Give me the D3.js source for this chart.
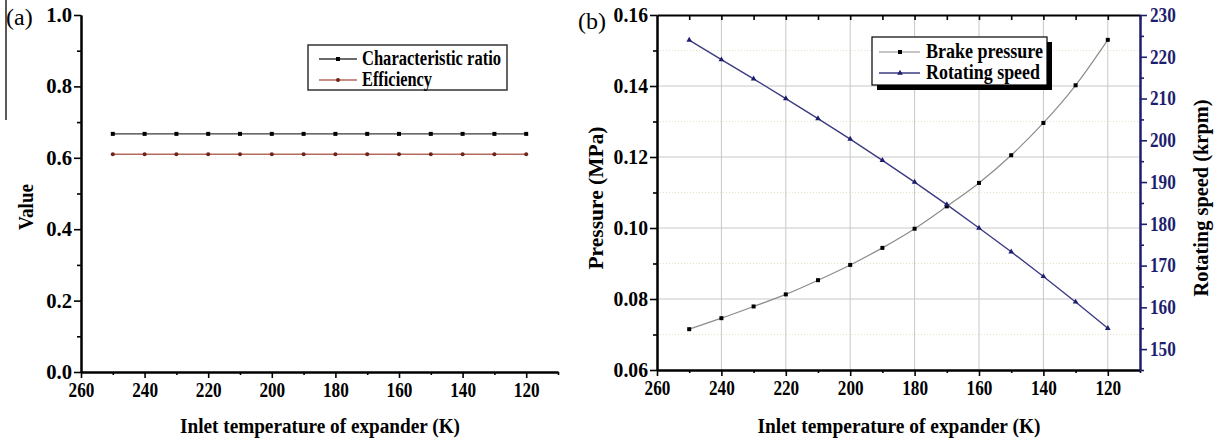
<!DOCTYPE html>
<html lang="en">
<head>
  <title>Expander chart</title>
  <meta charset="utf-8">
  <script src="https://d3js.org/d3.v7.min.js"></script>
  <style>
    body { margin: 0; background: #fff; }
    text { font-family: "Liberation Serif", "Times New Roman", serif; }
  </style>
</head>
<body>

<svg id="chart" width="1220" height="441"></svg>

<script>

// data
var temps = [250, 240, 230, 220, 210, 200, 190, 180, 170, 160, 150, 140, 130, 120];
var charRatio = [0.667, 0.667, 0.667, 0.667, 0.667, 0.667, 0.667, 0.667, 0.667, 0.667, 0.667, 0.667, 0.667, 0.667];
var efficiency = [0.610, 0.610, 0.610, 0.610, 0.610, 0.610, 0.610, 0.610, 0.610, 0.610, 0.610, 0.610, 0.610, 0.610];
var brakePressure = [0.0715, 0.0746, 0.0779, 0.0813, 0.0853, 0.0896, 0.0944, 0.0998, 0.1061, 0.1127, 0.1205, 0.1296, 0.1402, 0.1530];
var rotSpeed = [224.0, 219.3, 214.7, 210.0, 205.2, 200.3, 195.2, 190.0, 184.6, 179.0, 173.3, 167.4, 161.3, 155.0];

// tick values
var xMajor = [260, 240, 220, 200, 180, 160, 140, 120];
var xMinor = [250, 230, 210, 190, 170, 150, 130, 110];
var xAll = [250, 240, 230, 220, 210, 200, 190, 180, 170, 160, 150, 140, 130, 120, 110];
var valMajor = [0.0, 0.2, 0.4, 0.6, 0.8, 1.0];
var valMinor = [0.1, 0.3, 0.5, 0.7, 0.9];
var presMajor = [0.06, 0.08, 0.10, 0.12, 0.14, 0.16];
var presMinor = [0.07, 0.09, 0.11, 0.13, 0.15];
var speedMajor = [150, 160, 170, 180, 190, 200, 210, 220, 230];
var speedMinor = [145, 155, 165, 175, 185, 195, 205, 215, 225];

var navy = "#1e1e6e";
var svg = d3.select("#chart");

function addAxis(axis, tx, ty, color) {
    color = color || "#000";
    var g = svg.append("g").attr("transform", "translate(" + tx + "," + ty + ")").call(axis);
    g.select(".domain").attr("stroke", color).attr("stroke-width", 2);
    g.selectAll(".tick line").attr("stroke", color).attr("stroke-width", 1.6);
    g.selectAll(".tick text")
        .attr("fill", color)
        .attr("font-family", "Liberation Serif")
        .attr("font-size", 20)
        .attr("font-weight", 700)
        .style("font-weight", "700")
        .attr("textLength", function() { return this.textContent.length * 8.6; })
        .attr("lengthAdjust", "spacingAndGlyphs");
    return g;
}

function fmt2(d) { return d.toFixed(2); }
function fmt1(d) { return d.toFixed(1); }

// ---------- panel (a) ----------
var xa = d3.scaleLinear().domain([260, 110]).range([81, 558]);
var ya = d3.scaleLinear().domain([0, 1]).range([372, 15]);

addAxis(d3.axisBottom(xa).tickValues(xMinor).tickSize(3).tickFormat("").tickSizeOuter(0), 0, 372);
addAxis(d3.axisBottom(xa).tickValues(xMajor).tickSize(6).tickPadding(5).tickSizeOuter(0), 0, 372);
addAxis(d3.axisLeft(ya).tickValues(valMinor).tickSize(4).tickFormat("").tickSizeOuter(0), 81, 0);
addAxis(d3.axisLeft(ya).tickValues(valMajor).tickSize(7).tickPadding(2).tickFormat(fmt1).tickSizeOuter(0), 81, 0);

var lineA = function(vals) {
    return d3.line().x(function(d, i) { return xa(temps[i]); }).y(function(d) { return ya(d); })(vals);
};

svg.append("path").attr("d", lineA(efficiency)).attr("fill", "none").attr("stroke", "#b56a5e").attr("stroke-width", 1.4);
svg.append("path").attr("d", lineA(charRatio)).attr("fill", "none").attr("stroke", "#3a3a3a").attr("stroke-width", 1.4);

svg.append("g").selectAll("rect").data(charRatio).enter().append("rect")
    .attr("x", function(d, i) { return xa(temps[i]) - 2; })
    .attr("y", function(d) { return ya(d) - 2; })
    .attr("width", 4).attr("height", 4).attr("fill", "#000");
svg.append("g").selectAll("circle").data(efficiency).enter().append("circle")
    .attr("cx", function(d, i) { return xa(temps[i]); })
    .attr("cy", function(d) { return ya(d); })
    .attr("r", 2).attr("fill", "#6e2418");

// legend (a)
svg.append("rect").attr("x", 308).attr("y", 45).attr("width", 199).attr("height", 45)
    .attr("fill", "#fff").attr("stroke", "#333").attr("stroke-width", 1.5);
svg.append("line").attr("x1", 319).attr("x2", 357).attr("y1", 59).attr("y2", 59).attr("stroke", "#3a3a3a").attr("stroke-width", 1.4);
svg.append("rect").attr("x", 336).attr("y", 57).attr("width", 4).attr("height", 4).attr("fill", "#000");
svg.append("line").attr("x1", 319).attr("x2", 357).attr("y1", 80).attr("y2", 80).attr("stroke", "#b56a5e").attr("stroke-width", 1.4);
svg.append("circle").attr("cx", 338).attr("cy", 80).attr("r", 2).attr("fill", "#6e2418");
svg.append("text").attr("x", 362).attr("y", 65).text("Characteristic ratio")
    .attr("font-size", 20).attr("font-weight", "bold").attr("textLength", 139).attr("lengthAdjust", "spacingAndGlyphs");
svg.append("text").attr("x", 362).attr("y", 86).text("Efficiency")
    .attr("font-size", 20).attr("font-weight", "bold").attr("textLength", 70).attr("lengthAdjust", "spacingAndGlyphs");

// titles (a)
svg.append("text").attr("x", 320).attr("y", 433).attr("text-anchor", "middle").text("Inlet temperature of expander (K)")
    .attr("font-size", 20).attr("font-weight", "bold").attr("textLength", 280).attr("lengthAdjust", "spacingAndGlyphs");
svg.append("text").attr("transform", "translate(33,207) rotate(-90)").attr("text-anchor", "middle").text("Value")
    .attr("font-size", 20).attr("font-weight", "bold").attr("textLength", 46).attr("lengthAdjust", "spacingAndGlyphs");
svg.append("text").attr("x", 6).attr("y", 25).text("(a)").attr("font-size", 24);
svg.append("line").attr("x1", 6).attr("x2", 6).attr("y1", 0).attr("y2", 120).attr("stroke", "#222").attr("stroke-width", 1.5);

// ---------- panel (b) ----------
var xb = d3.scaleLinear().domain([260, 110]).range([657, 1140]);
var yp = d3.scaleLinear().domain([0.06, 0.16]).range([370, 15]);
var ys = d3.scaleLinear().domain([145, 230]).range([370, 15]);

// grid
var grid = svg.append("g");
grid.selectAll("line.mh").data(presMinor).enter().append("line")
    .attr("x1", 657).attr("x2", 1140).attr("y1", yp).attr("y2", yp)
    .attr("stroke", "#e6e2c8").attr("stroke-width", 1).attr("stroke-dasharray", "1,2");
grid.selectAll("line.gh").data(presMajor.slice(1, 5)).enter().append("line")
    .attr("x1", 657).attr("x2", 1140).attr("y1", yp).attr("y2", yp)
    .attr("stroke", "#c8c8c8").attr("stroke-width", 1);
grid.selectAll("line.gv").data(xMajor.slice(1)).enter().append("line")
    .attr("x1", xb).attr("x2", xb).attr("y1", 15).attr("y2", 370)
    .attr("stroke", "#c8c8c8").attr("stroke-width", 1);

addAxis(d3.axisTop(xb).tickValues(xAll).tickSize(-5).tickFormat("").tickSizeOuter(0), 0, 15);
addAxis(d3.axisBottom(xb).tickValues(xMinor).tickSize(3).tickFormat("").tickSizeOuter(0), 0, 370);
addAxis(d3.axisBottom(xb).tickValues(xMajor).tickSize(6).tickPadding(5).tickSizeOuter(0), 0, 370);
addAxis(d3.axisLeft(yp).tickValues(presMinor).tickSize(4).tickFormat("").tickSizeOuter(0), 657, 0);
addAxis(d3.axisLeft(yp).tickValues(presMajor).tickSize(7).tickPadding(2).tickFormat(fmt2).tickSizeOuter(0), 657, 0);
addAxis(d3.axisRight(ys).tickValues(speedMinor).tickSize(4).tickFormat("").tickSizeOuter(0), 1140, 0, navy);
addAxis(d3.axisRight(ys).tickValues(speedMajor).tickSize(7).tickPadding(3).tickSizeOuter(0), 1140, 0, navy);

var linePres = d3.line().curve(d3.curveMonotoneX)
    .x(function(d, i) { return xb(temps[i]); }).y(function(d) { return yp(d); });
var lineSpeed = d3.line()
    .x(function(d, i) { return xb(temps[i]); }).y(function(d) { return ys(d); });

svg.append("path").attr("d", linePres(brakePressure)).attr("fill", "none").attr("stroke", "#8c8c8c").attr("stroke-width", 1.2);
svg.append("path").attr("d", lineSpeed(rotSpeed)).attr("fill", "none").attr("stroke", "#3b3b82").attr("stroke-width", 1.4);

svg.append("g").selectAll("rect").data(brakePressure).enter().append("rect")
    .attr("x", function(d, i) { return xb(temps[i]) - 2; })
    .attr("y", function(d) { return yp(d) - 2; })
    .attr("width", 4).attr("height", 4).attr("fill", "#000");

var tri = d3.symbol().type(d3.symbolTriangle).size(14);
svg.append("g").selectAll("path").data(rotSpeed).enter().append("path")
    .attr("d", tri)
    .attr("transform", function(d, i) { return "translate(" + xb(temps[i]) + "," + ys(d) + ")"; })
    .attr("fill", navy);

// legend (b)
svg.append("rect").attr("x", 877).attr("y", 42).attr("width", 175).attr("height", 48).attr("fill", "#000");
svg.append("rect").attr("x", 872).attr("y", 37).attr("width", 175).attr("height", 48)
    .attr("fill", "#fff").attr("stroke", "#000").attr("stroke-width", 1.2);
svg.append("line").attr("x1", 879).attr("x2", 920).attr("y1", 52).attr("y2", 52).attr("stroke", "#8c8c8c").attr("stroke-width", 1.2);
svg.append("rect").attr("x", 898).attr("y", 50).attr("width", 4).attr("height", 4).attr("fill", "#000");
svg.append("line").attr("x1", 879).attr("x2", 920).attr("y1", 73).attr("y2", 73).attr("stroke", "#3b3b82").attr("stroke-width", 1.4);
svg.append("path").attr("d", tri).attr("transform", "translate(900,73)").attr("fill", navy);
svg.append("text").attr("x", 926).attr("y", 58).text("Brake pressure")
    .attr("font-size", 20).attr("font-weight", "bold").attr("textLength", 117).attr("lengthAdjust", "spacingAndGlyphs");
svg.append("text").attr("x", 926).attr("y", 79).text("Rotating speed")
    .attr("font-size", 20).attr("font-weight", "bold").attr("textLength", 114).attr("lengthAdjust", "spacingAndGlyphs");

// titles (b)
svg.append("text").attr("x", 899).attr("y", 433).attr("text-anchor", "middle").text("Inlet temperature of expander (K)")
    .attr("font-size", 20).attr("font-weight", "bold").attr("textLength", 283).attr("lengthAdjust", "spacingAndGlyphs");
svg.append("text").attr("transform", "translate(603,198) rotate(-90)").attr("text-anchor", "middle").text("Pressure (MPa)")
    .attr("font-size", 20).attr("font-weight", "bold").attr("textLength", 143).attr("lengthAdjust", "spacingAndGlyphs");
svg.append("text").attr("transform", "translate(1208,198) rotate(-90)").attr("text-anchor", "middle").text("Rotating speed (krpm)")
    .attr("font-size", 20).attr("font-weight", "bold").attr("textLength", 197).attr("lengthAdjust", "spacingAndGlyphs");
svg.append("text").attr("x", 578).attr("y", 29).text("(b)").attr("font-size", 24);

</script>

</body>
</html>
